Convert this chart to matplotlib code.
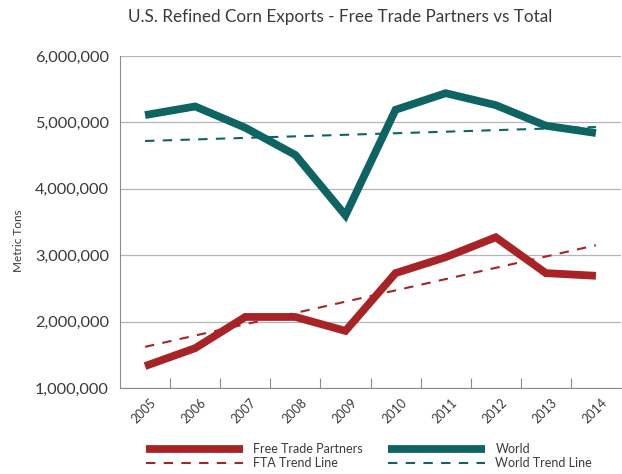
import matplotlib
matplotlib.use('Agg')
import matplotlib.pyplot as plt
from matplotlib.ticker import FuncFormatter, FixedLocator
import matplotlib.transforms as mtransforms

plt.rcParams['font.family'] = ['Lato', 'DejaVu Sans']

# Data (metric tons)
years = ['2005', '2006', '2007', '2008', '2009', '2010', '2011', '2012', '2013', '2014']
world = [5110000, 5240000, 4920000, 4510000, 3600000, 5190000, 5440000, 5260000, 4950000, 4840000]
free_trade = [1330000, 1600000, 2070000, 2070000, 1860000, 2730000, 2970000, 3270000, 2730000, 2690000]
# trend line endpoints (2005, 2014)
world_trend = [4720000, 4930000]
fta_trend = [1620000, 3150000]

RED = '#a82326'
TEAL = '#0e6363'
TXT = '#3a3a3a'

fig = plt.figure(figsize=(6.22, 4.74), dpi=100)
ax = fig.add_axes([120 / 622, 1 - 388 / 474, 501 / 622, 332 / 474])

x = list(range(len(years)))
ax.plot(x, free_trade, color=RED, lw=5.6, solid_capstyle='butt', solid_joinstyle='miter',
        label='Free Trade Partners', zorder=3)
ax.plot([x[0], x[-1]], fta_trend, color=RED, lw=1.5, dashes=(4.5, 4),
        label='FTA Trend Line', zorder=4)
ax.plot(x, world, color=TEAL, lw=5.6, solid_capstyle='butt', solid_joinstyle='miter',
        label='World', zorder=3)
ax.plot([x[0], x[-1]], world_trend, color=TEAL, lw=1.5, dashes=(4.5, 4),
        label='World Trend Line', zorder=4)

ax.set_xlim(-0.5, len(years) - 0.5)
ax.set_ylim(1000000, 6000000)
ax.set_yticks(range(1000000, 6000001, 1000000))
ax.yaxis.set_major_formatter(FuncFormatter(lambda v, p: f'{int(v):,}'))
ax.grid(axis='y', color='#b5b5b5', lw=0.9)
ax.set_axisbelow(True)

for s in ['top', 'right']:
    ax.spines[s].set_visible(False)
ax.spines['left'].set_color('#8a8a8a')
ax.spines['bottom'].set_color('#8a8a8a')

# category labels at centres, tick marks at boundaries
ax.xaxis.set_major_locator(FixedLocator([i + 0.5 for i in x[:-1]]))
ax.xaxis.set_major_formatter(FuncFormatter(lambda v, p: ''))
ax.set_xticks(x, years, minor=True)
ax.tick_params(axis='x', which='major', direction='in', length=7, color='#8a8a8a')
ax.tick_params(axis='x', which='minor', length=0, labelsize=9, labelcolor=TXT, pad=6)
offset = mtransforms.ScaledTranslation(5 / 100, 0, fig.dpi_scale_trans)
for lab in ax.get_xticklabels(minor=True):
    lab.set_rotation(45)
    lab.set_ha('right')
    lab.set_rotation_mode('anchor')
    lab.set_transform(lab.get_transform() + offset)
ax.tick_params(axis='y', length=0, labelsize=11.8, labelcolor=TXT, pad=8)

fig.text(18 / 622, 1 - 241 / 474, 'Metric Tons', rotation=90, ha='center', va='center',
         fontsize=8.5, color=TXT)

fig.text(340 / 622, 1 - 17 / 474, 'U.S. Refined Corn Exports - Free Trade Partners vs Total',
         ha='center', va='center', fontsize=12.3, color=TXT)

fig.legend(loc='center', bbox_to_anchor=(369 / 622, 1 - 456 / 474), ncol=2, frameon=False,
           fontsize=9, handlelength=7.8, columnspacing=2.0, labelspacing=0.15,
           handletextpad=0.8, labelcolor=TXT)

fig.savefig('out.png', dpi=100, facecolor='white')
